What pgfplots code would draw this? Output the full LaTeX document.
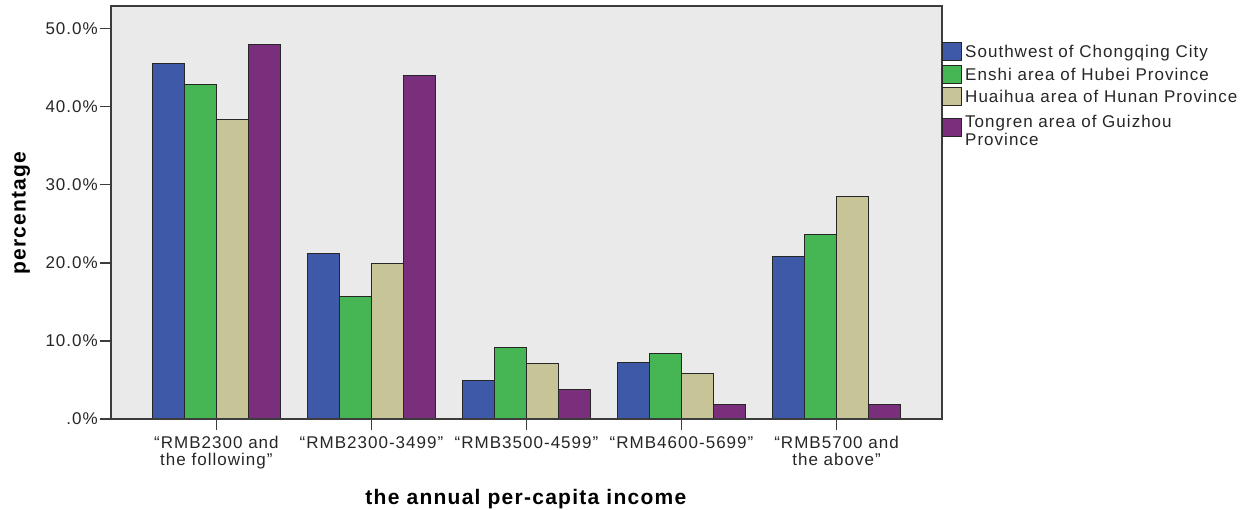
\documentclass[border=0pt]{standalone}
\usepackage{pgfplots}
\pgfplotsset{compat=1.18}
\usepackage{fontspec}
\setmainfont[LetterSpace=6]{Liberation Sans}

\definecolor{cblue}{RGB}{62,89,168}
\definecolor{cgreen}{RGB}{70,182,84}
\definecolor{ctan}{RGB}{199,196,152}
\definecolor{cpurple}{RGB}{122,47,124}
\definecolor{bggray}{RGB}{234,234,234}
\definecolor{axgray}{RGB}{60,60,60}

\begin{document}
\begin{tikzpicture}
\begin{axis}[
    scale only axis,
    axis on top,
    width=831pt, height=413pt,
    ybar=0pt,
    bar width=0.2065,
    xmin=-0.68, xmax=4.68,
    ymin=0, ymax=52.9,
    xtick={0,1,2,3,4},
    xticklabels={{“RMB2300 and\\the following”},{“RMB2300-3499”},{“RMB3500-4599”},{“RMB4600-5699”},{“RMB5700 and\\the above”}},
    ytick={0,10,20,30,40,50},
    yticklabels={.0\%,10.0\%,20.0\%,30.0\%,40.0\%,50.0\%},
    xtick pos=bottom,
    ytick pos=left,
    xtick align=outside,
    ytick align=outside,
    major tick length=11pt,
    tick style={draw=axgray, line width=1.3pt},
    major x tick style={draw=axgray, line width=1.5pt},
    axis line style={axgray, line width=1.5pt},
    axis background/.style={fill=bggray},
    ticklabel style={font=\fontsize{17}{17}\selectfont, text=black!85},
    xticklabel style={align=center, inner sep=1pt, yshift=-5pt},
    yticklabel style={inner sep=2pt},
    xlabel={\textbf{the annual per-capita income}},
    ylabel={\textbf{percentage}},
    label style={font=\fontsize{21}{24}\selectfont},
    xlabel style={yshift=-16pt},
    ylabel style={yshift=10pt},
    every axis plot/.append style={draw=black!85, line width=1pt},
    legend cell align=left,
    legend style={
        at={(1,0.918)}, anchor=north west, xshift=-3pt,
        draw=none, fill=none,
        font=\fontsize{17}{18}\selectfont,
        row sep=3.5pt,
        nodes={inner sep=0pt, text=black!85},
        /tikz/every odd column/.append style={column sep=3pt},
    },
    legend image code/.code={\draw[#1] (0pt,-8pt) rectangle (19pt,10pt);},
]
\addplot[fill=cblue] coordinates {(0,45.5) (1,21.2) (2,4.9) (3,7.3) (4,20.8)};
\addplot[fill=cgreen] coordinates {(0,42.9) (1,15.7) (2,9.1) (3,8.4) (4,23.6)};
\addplot[fill=ctan] coordinates {(0,38.4) (1,19.9) (2,7.1) (3,5.8) (4,28.5)};
\addplot[fill=cpurple] coordinates {(0,48.0) (1,44.0) (2,3.8) (3,1.8) (4,1.9)};
\legend{Southwest of Chongqing City, Enshi area of Hubei Province, Huaihua area of Hunan Province, {\raisebox{8.5pt}[\dimexpr\height+13.5pt\relax]{\begin{tabular}[c]{@{}l@{}}Tongren area of Guizhou\\Province\end{tabular}}}}
\end{axis}
\pgfresetboundingbox
\path (-111pt,-90pt) rectangle (1136pt,419pt);
\end{tikzpicture}
\end{document}
